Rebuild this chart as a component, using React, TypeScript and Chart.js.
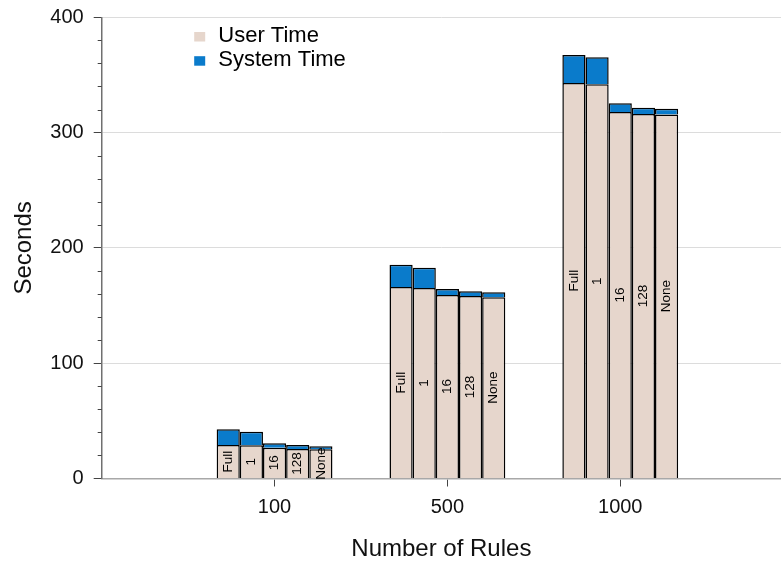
import React, { useEffect, useRef } from 'react';
import { Chart, registerables } from 'chart.js';

Chart.register(...registerables);

// ---- data ----
const ruleCounts = ['100', '500', '1000'];
const variants = ['Full', '1', '16', '128', 'None'];

const userFull = [29, 166, 343];
const user1 = [28.8, 165.2, 341.9];
const user16 = [26.7, 159.1, 317.9];
const user128 = [25.6, 158.3, 316.1];
const userNone = [25.3, 157.2, 315.8];

const systemFull = [13.7, 19.4, 24.3];
const system1 = [11.8, 17.6, 23.4];
const system16 = [3.8, 5.3, 7.5];
const system128 = [3.4, 4.0, 5.5];
const systemNone = [2.6, 4.3, 4.9];

const userSeries = [userFull, user1, user16, user128, userNone];
const systemSeries = [systemFull, system1, system16, system128, systemNone];

const yTicks = [0, 100, 200, 300, 400];
const yMinorStep = 20;
const legendLabels = ['User Time', 'System Time'];

// ---- styles ----
const FONT = '"Liberation Sans", Arial, Helvetica, sans-serif';
const USER_COLOR = '#e6d6cc';
const SYSTEM_COLOR = '#0a7bcb';
const X_MAX = 3.93;

const toPoints = (arr: number[]) => arr.map((v, i) => ({ x: i + 1, y: v }));

const barLabelPlugin = {
  id: 'barLabels',
  afterDatasetsDraw(chart: any) {
    const { ctx } = chart;
    chart.data.datasets.forEach((ds: any, di: number) => {
      if (ds.kind !== 'user') return;
      const meta = chart.getDatasetMeta(di);
      meta.data.forEach((el: any) => {
        const yMid = (el.y + el.base) / 2;
        ctx.save();
        ctx.translate(el.x, yMid);
        ctx.rotate(-Math.PI / 2);
        ctx.font = `13.5px ${FONT}`;
        ctx.fillStyle = '#000';
        ctx.textAlign = 'center';
        ctx.textBaseline = 'middle';
        ctx.fillText(ds.variant, 0, 0);
        ctx.restore();
      });
    });
  },
};

const legendPlugin = {
  id: 'boxLegend',
  afterDraw(chart: any) {
    const { ctx, chartArea } = chart;
    const colors = [USER_COLOR, SYSTEM_COLOR];
    legendLabels.forEach((label, i) => {
      const baseY = chartArea.top + 24.2 + i * 24.2;
      const sx = chartArea.left + 92.5;
      ctx.save();
      ctx.fillStyle = colors[i];
      ctx.fillRect(sx, baseY - 9.5, 11, 9.5);
      ctx.font = `22px ${FONT}`;
      ctx.fillStyle = '#000';
      ctx.textAlign = 'left';
      ctx.textBaseline = 'alphabetic';
      ctx.fillText(label, chartArea.left + 116.6, baseY);
      ctx.restore();
    });
  },
};

const minorTickPlugin = {
  id: 'minorTicks',
  afterDraw(chart: any) {
    const { ctx } = chart;
    const y = chart.scales.y;
    const x0 = chart.chartArea.left;
    ctx.save();
    ctx.strokeStyle = '#444';
    ctx.lineWidth = 1;
    for (let v = 0; v <= 400; v += yMinorStep) {
      if (yTicks.includes(v)) continue;
      const py = Math.round(y.getPixelForValue(v)) + 0.5;
      ctx.beginPath();
      ctx.moveTo(x0 - 4, py);
      ctx.lineTo(x0, py);
      ctx.stroke();
    }
    ctx.restore();
  },
};

export default function App() {
  const canvasRef = useRef<HTMLCanvasElement | null>(null);

  useEffect(() => {
    if (!canvasRef.current) return;
    const datasets: any[] = [];
    variants.forEach((v, i) => {
      datasets.push({
        label: 'User Time',
        kind: 'user',
        variant: v,
        stack: v,
        data: toPoints(userSeries[i]),
        backgroundColor: USER_COLOR,
        borderColor: '#000',
        borderWidth: 1.5,
      });
      datasets.push({
        label: 'System Time',
        kind: 'system',
        variant: v,
        stack: v,
        data: toPoints(systemSeries[i]),
        backgroundColor: SYSTEM_COLOR,
        borderColor: '#000',
        borderWidth: 1.5,
      });
    });

    const chart = new Chart(canvasRef.current, {
      type: 'bar',
      data: { datasets },
      options: {
        animation: false,
        responsive: false,
        maintainAspectRatio: false,
        layout: { padding: { top: 17.3, right: 0, bottom: 0, left: 0 } },
        plugins: {
          legend: { display: false },
          tooltip: { enabled: false },
        },
        datasets: {
          bar: { categoryPercentage: 0.67, barPercentage: 1 },
        },
        scales: {
          x: {
            type: 'linear',
            min: 0,
            max: X_MAX,
            offset: false,
            stacked: true,
            afterBuildTicks: (s: any) => {
              s.ticks = ruleCounts.map((_, i) => ({ value: i + 1 }));
            },
            afterFit: (s: any) => {
              s.height = 87.5;
              s.paddingLeft = 0;
              s.paddingRight = 0;
            },
            grid: {
              offset: false,
              drawOnChartArea: false,
              drawTicks: true,
              tickLength: 8,
              tickColor: '#444',
            },
            border: { display: true, color: '#a8a8a8', width: 1.5 },
            ticks: {
              padding: 9,
              color: '#111',
              font: { family: FONT, size: 20 },
              callback: (v: any) => ruleCounts[Number(v) - 1] ?? '',
            },
            title: {
              display: true,
              text: 'Number of Rules',
              color: '#111',
              font: { family: FONT, size: 24 },
              padding: { top: 0, bottom: 2 },
            },
          },
          y: {
            min: 0,
            max: 400,
            stacked: true,
            afterBuildTicks: (s: any) => {
              s.ticks = yTicks.map((v) => ({ value: v }));
            },
            afterFit: (s: any) => {
              s.width = 101.7;
              s.paddingTop = 0;
              s.paddingBottom = 0;
            },
            grid: {
              color: (c: any) => (c.tick && c.tick.value > 0 ? '#dcdcdc' : 'rgba(0,0,0,0)'),
              lineWidth: 1,
              drawTicks: true,
              tickLength: 8,
              tickColor: '#444',
            },
            border: { display: true, color: '#707070', width: 1.5 },
            ticks: {
              padding: 10,
              color: '#111',
              font: { family: FONT, size: 20 },
              callback: (v: any) => String(v),
            },
            title: {
              display: true,
              text: 'Seconds',
              color: '#111',
              font: { family: FONT, size: 24 },
              padding: { top: 10, bottom: 0 },
            },
          },
        },
      } as any,
      plugins: [barLabelPlugin, legendPlugin, minorTickPlugin],
    });
    return () => chart.destroy();
  }, []);

  return (
    <div style={{ position: 'absolute', left: 0, top: 0, width: 781, height: 566 }}>
      <canvas ref={canvasRef} width={781} height={566} style={{ display: 'block' }} />
    </div>
  );
}
